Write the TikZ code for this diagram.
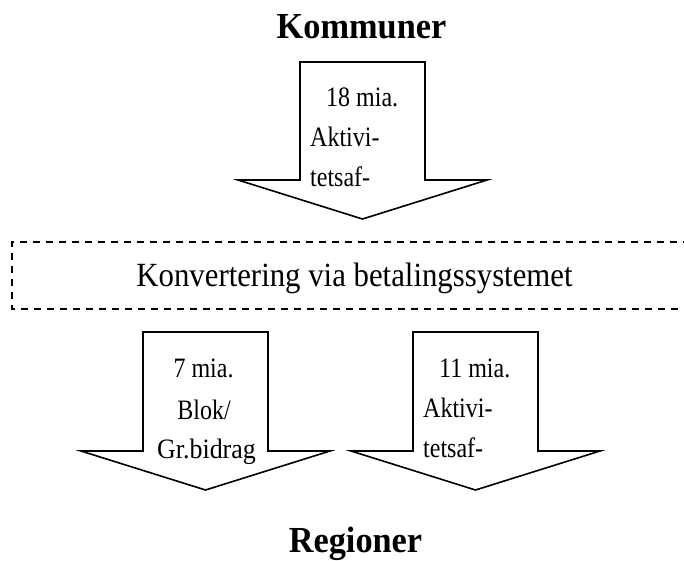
\documentclass[tikz,border=0pt]{standalone}
\usepackage{fontspec}
\setmainfont{Liberation Serif}
% slightly tall lettering
\newcommand{\tallText}[2]{\scalebox{1}[#1]{#2}}
\begin{document}
\begin{tikzpicture}[x=1pt,y=-1pt,
  blockarrow/.style={draw=black,line width=1.6pt,fill=white,line join=miter},
  title/.style={font=\fontsize{34.3}{34}\selectfont\bfseries,inner sep=0pt},
  amount/.style={font=\fontsize{24}{24}\selectfont,inner sep=0pt},
  banner/.style={font=\fontsize{30.8}{30}\selectfont,inner sep=0pt},
  dashframe/.style={draw=black,line width=1.8pt,dash pattern=on 7pt off 6pt}]
\useasboundingbox (0,0) rectangle (684,560);

% headings
\node[title,anchor=base] (kommuner) at (361.5,38) {\tallText{1.07}{Kommuner}};
\node[title,anchor=base] (regioner) at (355.5,552) {\tallText{1.07}{Regioner}};

% block arrow from the municipalities
\draw[blockarrow] (300,62) -- (425,62) -- (425,180) -- (487,180) -- (362.5,219)
  -- (238,180) -- (300,180) -- cycle;
\node[amount,anchor=base west] (t1) at (326,106) {\tallText{1.17}{18 mia.}};
\node[amount,anchor=base west] (t2) at (310,146) {\tallText{1.17}{Aktivi-}};
\node[amount,anchor=base west] (t3) at (310,186) {\tallText{1.17}{tetsaf-}};

% conversion band, open on the right
\draw[dashframe] (690,242) -- (12,242) -- (12,309) -- (690,309);
\node[banner,anchor=base] (conv) at (354.5,286) {\tallText{1.1}{Konvertering via betalingssystemet}};

% block arrow with block grant
\draw[blockarrow] (143,332) -- (268,332) -- (268,451) -- (330,451) -- (205.5,490)
  -- (81,451) -- (143,451) -- cycle;
\node[amount,anchor=base] (b1) at (203.5,377) {\tallText{1.17}{7 mia.}};
\node[amount,anchor=base] (b2) at (204,419) {\tallText{1.17}{Blok/}};
\node[amount,anchor=base] (b3) at (206.5,458) {\scalebox{1.08}[1.17]{Gr.bidrag}};

% block arrow with activity-based funding
\draw[blockarrow] (413,332) -- (538,332) -- (538,451) -- (600,451) -- (475.5,490)
  -- (351,451) -- (413,451) -- cycle;
\node[amount,anchor=base west] (c1) at (439,377) {\tallText{1.17}{11 mia.}};
\node[amount,anchor=base west] (c2) at (423,417) {\tallText{1.17}{Aktivi-}};
\node[amount,anchor=base west] (c3) at (423,457) {\tallText{1.17}{tetsaf-}};
\end{tikzpicture}
\end{document}
